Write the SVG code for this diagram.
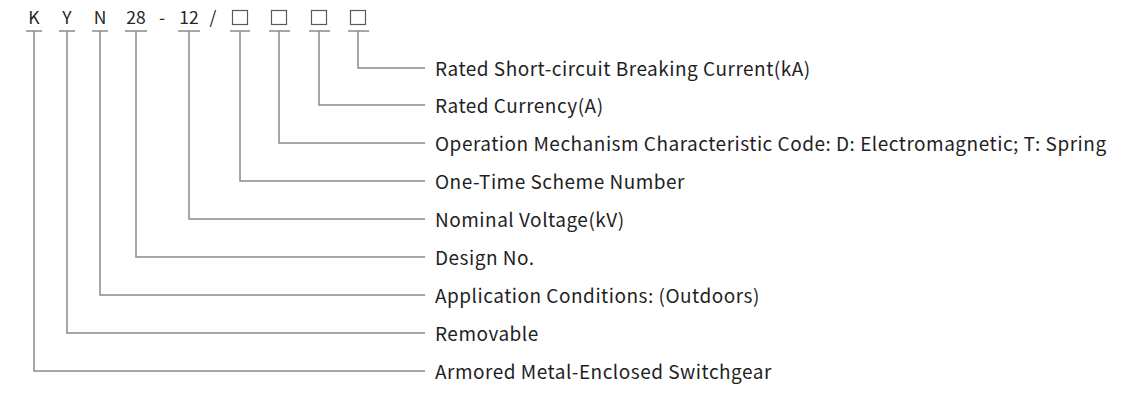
<svg xmlns="http://www.w3.org/2000/svg" width="1126" height="401" viewBox="0 0 1126 401">
<style>
.bg{fill:#ffffff}
.code{font-family:"Noto Sans CJK SC","Noto Sans",sans-serif;font-size:17.5px;fill:#262626;text-anchor:middle}
.box{fill:none;stroke:#5a5a5a;stroke-width:1.2}
.lbl{font-family:"Noto Sans CJK SC","Noto Sans",sans-serif;font-size:19px;letter-spacing:0.5px;fill:#1f1f1f}
.ln{fill:none;stroke:#8a8a8a;stroke-width:1.5}
</style>
<rect class="bg" x="0" y="0" width="1126" height="401"/>
<g id="code">
<text class="code" x="34" y="24">K</text>
<text class="code" x="67" y="24">Y</text>
<text class="code" x="100" y="24">N</text>
<text class="code" x="136" y="24">28</text>
<text class="code" x="162" y="24">-</text>
<text class="code" x="189" y="24">12</text>
<text class="code" x="213" y="24">/</text>
<rect class="box" x="232.5" y="10.5" width="15" height="14"/>
<rect class="box" x="271.5" y="10.5" width="15" height="14"/>
<rect class="box" x="311.5" y="10.5" width="15" height="14"/>
<rect class="box" x="350.5" y="10.5" width="15" height="14"/>
</g>
<g id="connectors">
<path class="ln" d="M26 31H42M34 31V371H425"/>
<path class="ln" d="M59 31H75M67 31V333H425"/>
<path class="ln" d="M92 31H108M100 31V295H425"/>
<path class="ln" d="M125 31H147M136 31V257H425"/>
<path class="ln" d="M178 31H200M189 31V219H425"/>
<path class="ln" d="M230 31H250M240 31V181H425"/>
<path class="ln" d="M269 31H290M279 31V143H425"/>
<path class="ln" d="M309 31H330M319 31V105H425"/>
<path class="ln" d="M348 31H369M358 31V68H425"/>
</g>
<g id="n1"><text class="lbl" x="435" y="76">Rated Short-circuit Breaking Current(kA)</text></g>
<g id="n2"><text class="lbl" x="435" y="113">Rated Currency(A)</text></g>
<g id="n3"><text class="lbl" x="435" y="151">Operation Mechanism Characteristic Code: D: Electromagnetic; T: Spring</text></g>
<g id="n4"><text class="lbl" x="435" y="189">One-Time Scheme Number</text></g>
<g id="n5"><text class="lbl" x="435" y="227">Nominal Voltage(kV)</text></g>
<g id="n6"><text class="lbl" x="435" y="265">Design No.</text></g>
<g id="n7"><text class="lbl" x="435" y="303">Application Conditions: (Outdoors)</text></g>
<g id="n8"><text class="lbl" x="435" y="341">Removable</text></g>
<g id="n9"><text class="lbl" x="435" y="379">Armored Metal-Enclosed Switchgear</text></g>
</svg>
